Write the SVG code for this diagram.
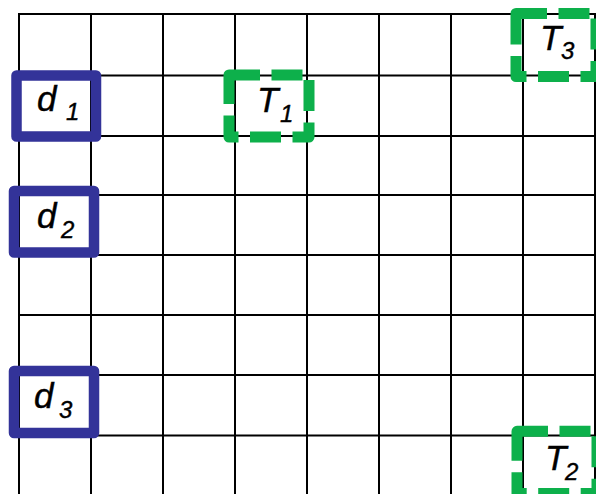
<svg xmlns="http://www.w3.org/2000/svg" width="598" height="494" viewBox="0 0 598 494">
<defs>
<clipPath id="clip"><rect x="0" y="0" width="596" height="494"/></clipPath>
</defs>
<style>
.grid line{stroke:#000;stroke-width:2}
.d{fill:none;stroke:#333399;stroke-width:10.5;stroke-linejoin:round}
.t{fill:none;stroke:#0db04b;stroke-width:11;stroke-linejoin:round;stroke-dasharray:31 11.5}
.lbl{font-family:"Liberation Sans",Arial,sans-serif;font-style:italic;fill:#000;stroke:#000;stroke-width:0.4}
.main{font-size:35px}
.sub{font-size:24px}
</style>
<rect width="598" height="494" fill="#fff"/>
<g id="grid" class="grid">
<line x1="19" y1="13" x2="19" y2="494"/>
<line x1="91" y1="13" x2="91" y2="494"/>
<line x1="163" y1="13" x2="163" y2="494"/>
<line x1="235" y1="13" x2="235" y2="494"/>
<line x1="307" y1="13" x2="307" y2="494"/>
<line x1="379" y1="13" x2="379" y2="494"/>
<line x1="451" y1="13" x2="451" y2="494"/>
<line x1="523" y1="13" x2="523" y2="494"/>
<line x1="595" y1="13" x2="595" y2="494"/>
<line x1="18" y1="14" x2="596" y2="14"/>
<line x1="18" y1="75.5" x2="596" y2="75.5"/>
<line x1="18" y1="136" x2="596" y2="136"/>
<line x1="18" y1="195" x2="596" y2="195"/>
<line x1="18" y1="255" x2="596" y2="255"/>
<line x1="18" y1="315" x2="596" y2="315"/>
<line x1="18" y1="375" x2="596" y2="375"/>
<line x1="18" y1="435.5" x2="596" y2="435.5"/>
</g>
<g id="connectors"></g>
<g id="d1">
<rect class="d" x="16.5" y="75.5" width="79.5" height="61"/>
<text class="lbl main" x="37" y="111">d</text><text class="lbl sub" x="66" y="120">1</text>
</g>
<g id="d2">
<rect class="d" x="14" y="191" width="80" height="61.5"/>
<text class="lbl main" x="37" y="228">d</text><text class="lbl sub" x="61" y="238">2</text>
</g>
<g id="d3">
<rect class="d" x="14" y="371" width="80" height="62"/>
<text class="lbl main" x="34" y="408">d</text><text class="lbl sub" x="59" y="418">3</text>
</g>
<g id="T1">
<path class="t" d="M229 75 H309 V137 H229 Z"/>
<text class="lbl main" x="257" y="112">T</text><text class="lbl sub" x="280" y="122">1</text>
</g>
<g id="T3" clip-path="url(#clip)">
<path class="t" d="M516 13.5 H596 V76.5 H516 Z"/>
<text class="lbl main" x="540" y="50">T</text><text class="lbl sub" x="561" y="59">3</text>
</g>
<g id="T2" clip-path="url(#clip)">
<path class="t" d="M517 431.3 H597 V493.5 H517 Z"/>
<text class="lbl main" x="545" y="470">T</text><text class="lbl sub" x="565" y="480">2</text>
</g>
</svg>
